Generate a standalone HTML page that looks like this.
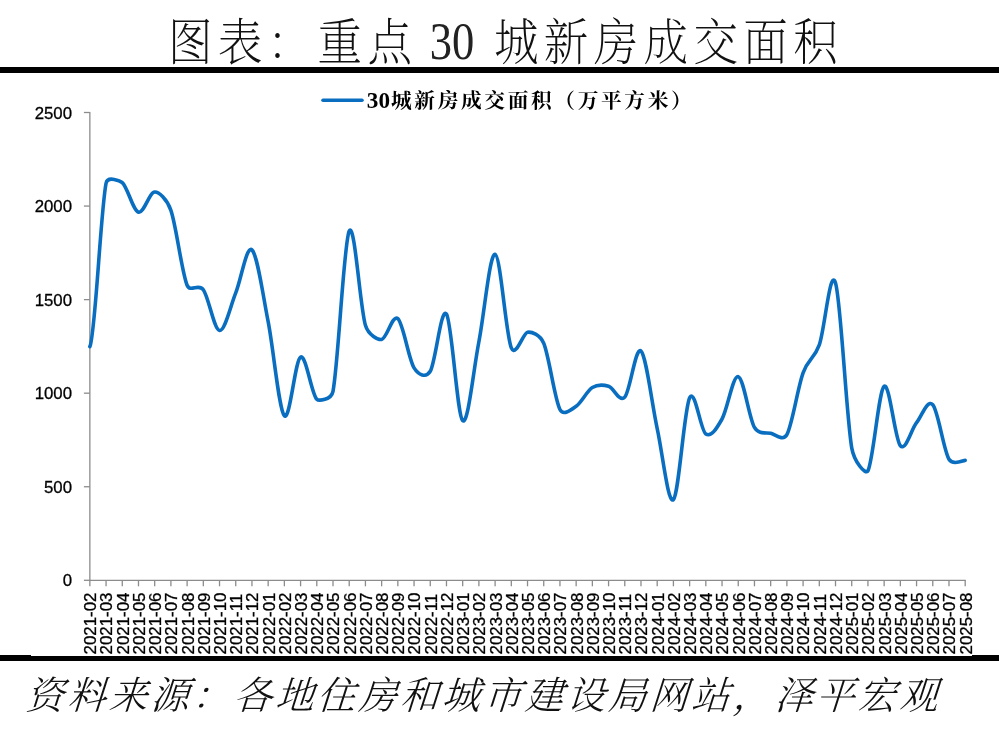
<!DOCTYPE html>
<html lang="zh-CN"><head><meta charset="utf-8"><title>图表：重点30城新房成交面积</title>
<style>
html,body{margin:0;padding:0;background:#fff;}
body{width:999px;height:729px;position:relative;overflow:hidden;font-family:"Liberation Sans","Noto Sans CJK SC",sans-serif;}
#title{position:absolute;left:0;top:0;width:999px;height:66px;font-family:"Liberation Serif","Noto Serif CJK SC",serif;font-weight:200;color:#111;}
#title span{position:absolute;top:11px;white-space:nowrap;line-height:66px;display:block;}
#title .c{font-size:49.5px;letter-spacing:5.9px;transform:scaleX(.9);transform-origin:0 50%;}
#title .n{font-size:51.8px;transform:scaleX(.86);transform-origin:50% 50%;left:401.6px;width:100px;text-align:center;font-weight:400;color:#222;top:9.3px;}
#topline{position:absolute;left:0;top:67px;width:999px;height:6px;background:#000;}
#botline{position:absolute;left:0;top:655px;width:999px;height:6px;background:#000;}
#chart{position:absolute;left:31px;top:73px;width:941.2px;height:583px;background:#fff;}
#source{position:absolute;left:26px;top:667.5px;transform:skewX(-4deg);transform-origin:0 50%;width:970px;height:56px;font-family:"Liberation Serif","Noto Serif CJK SC",serif;font-weight:300;font-style:italic;font-size:38.5px;letter-spacing:3.1px;line-height:56px;color:#111;white-space:nowrap;}
#wrap{position:absolute;left:0;top:0;width:999px;height:729px;will-change:transform;opacity:.999;}
svg{position:absolute;left:0;top:0;}
svg text{font-family:"Liberation Sans","Noto Sans CJK SC",sans-serif;fill:#000;}
</style></head><body><div id="wrap">
<div id="title"><span class="c" style="left:168px">图表：重点</span><span class="n">30</span><span class="c" style="left:493.9px">城新房成交面积</span></div>
<div id="topline"></div>
<div id="botline"></div>
<div id="chart"></div>
<svg width="999" height="729" viewBox="0 0 999 729">
<g stroke="#8c8c8c" stroke-width="1.3" fill="none">
<line x1="89.85" y1="111.9" x2="89.85" y2="580.9"/>
<line x1="89.85" y1="580.3" x2="965.8" y2="580.3"/>
<line x1="89.85" y1="580.3" x2="89.85" y2="586.3"/><line x1="106.06" y1="580.3" x2="106.06" y2="586.3"/><line x1="122.27" y1="580.3" x2="122.27" y2="586.3"/><line x1="138.48" y1="580.3" x2="138.48" y2="586.3"/><line x1="154.69" y1="580.3" x2="154.69" y2="586.3"/><line x1="170.90" y1="580.3" x2="170.90" y2="586.3"/><line x1="187.11" y1="580.3" x2="187.11" y2="586.3"/><line x1="203.32" y1="580.3" x2="203.32" y2="586.3"/><line x1="219.53" y1="580.3" x2="219.53" y2="586.3"/><line x1="235.74" y1="580.3" x2="235.74" y2="586.3"/><line x1="251.95" y1="580.3" x2="251.95" y2="586.3"/><line x1="268.16" y1="580.3" x2="268.16" y2="586.3"/><line x1="284.37" y1="580.3" x2="284.37" y2="586.3"/><line x1="300.58" y1="580.3" x2="300.58" y2="586.3"/><line x1="316.79" y1="580.3" x2="316.79" y2="586.3"/><line x1="333.00" y1="580.3" x2="333.00" y2="586.3"/><line x1="349.21" y1="580.3" x2="349.21" y2="586.3"/><line x1="365.42" y1="580.3" x2="365.42" y2="586.3"/><line x1="381.63" y1="580.3" x2="381.63" y2="586.3"/><line x1="397.84" y1="580.3" x2="397.84" y2="586.3"/><line x1="414.05" y1="580.3" x2="414.05" y2="586.3"/><line x1="430.26" y1="580.3" x2="430.26" y2="586.3"/><line x1="446.47" y1="580.3" x2="446.47" y2="586.3"/><line x1="462.68" y1="580.3" x2="462.68" y2="586.3"/><line x1="478.89" y1="580.3" x2="478.89" y2="586.3"/><line x1="495.10" y1="580.3" x2="495.10" y2="586.3"/><line x1="511.31" y1="580.3" x2="511.31" y2="586.3"/><line x1="527.52" y1="580.3" x2="527.52" y2="586.3"/><line x1="543.73" y1="580.3" x2="543.73" y2="586.3"/><line x1="559.94" y1="580.3" x2="559.94" y2="586.3"/><line x1="576.15" y1="580.3" x2="576.15" y2="586.3"/><line x1="592.36" y1="580.3" x2="592.36" y2="586.3"/><line x1="608.57" y1="580.3" x2="608.57" y2="586.3"/><line x1="624.78" y1="580.3" x2="624.78" y2="586.3"/><line x1="640.99" y1="580.3" x2="640.99" y2="586.3"/><line x1="657.20" y1="580.3" x2="657.20" y2="586.3"/><line x1="673.41" y1="580.3" x2="673.41" y2="586.3"/><line x1="689.62" y1="580.3" x2="689.62" y2="586.3"/><line x1="705.83" y1="580.3" x2="705.83" y2="586.3"/><line x1="722.04" y1="580.3" x2="722.04" y2="586.3"/><line x1="738.25" y1="580.3" x2="738.25" y2="586.3"/><line x1="754.46" y1="580.3" x2="754.46" y2="586.3"/><line x1="770.67" y1="580.3" x2="770.67" y2="586.3"/><line x1="786.88" y1="580.3" x2="786.88" y2="586.3"/><line x1="803.09" y1="580.3" x2="803.09" y2="586.3"/><line x1="819.30" y1="580.3" x2="819.30" y2="586.3"/><line x1="835.51" y1="580.3" x2="835.51" y2="586.3"/><line x1="851.72" y1="580.3" x2="851.72" y2="586.3"/><line x1="867.93" y1="580.3" x2="867.93" y2="586.3"/><line x1="884.14" y1="580.3" x2="884.14" y2="586.3"/><line x1="900.35" y1="580.3" x2="900.35" y2="586.3"/><line x1="916.56" y1="580.3" x2="916.56" y2="586.3"/><line x1="932.77" y1="580.3" x2="932.77" y2="586.3"/><line x1="948.98" y1="580.3" x2="948.98" y2="586.3"/><line x1="965.19" y1="580.3" x2="965.19" y2="586.3"/>
<line x1="83.9" y1="580.30" x2="89.85" y2="580.30"/><line x1="83.9" y1="486.74" x2="89.85" y2="486.74"/><line x1="83.9" y1="393.18" x2="89.85" y2="393.18"/><line x1="83.9" y1="299.62" x2="89.85" y2="299.62"/><line x1="83.9" y1="206.06" x2="89.85" y2="206.06"/><line x1="83.9" y1="112.50" x2="89.85" y2="112.50"/>
</g>
<g font-size="16.8px" stroke="#000" stroke-width="0.3"><text x="72" y="586.30" text-anchor="end">0</text><text x="72" y="492.74" text-anchor="end">500</text><text x="72" y="399.18" text-anchor="end">1000</text><text x="72" y="305.62" text-anchor="end">1500</text><text x="72" y="212.06" text-anchor="end">2000</text><text x="72" y="118.50" text-anchor="end">2500</text></g>
<g font-size="16.9px" stroke="#000" stroke-width="0.3"><text transform="translate(96.25,654.5) rotate(-90)">2021-02</text><text transform="translate(112.46,654.5) rotate(-90)">2021-03</text><text transform="translate(128.67,654.5) rotate(-90)">2021-04</text><text transform="translate(144.88,654.5) rotate(-90)">2021-05</text><text transform="translate(161.09,654.5) rotate(-90)">2021-06</text><text transform="translate(177.30,654.5) rotate(-90)">2021-07</text><text transform="translate(193.51,654.5) rotate(-90)">2021-08</text><text transform="translate(209.72,654.5) rotate(-90)">2021-09</text><text transform="translate(225.93,654.5) rotate(-90)">2021-10</text><text transform="translate(242.14,654.5) rotate(-90)">2021-11</text><text transform="translate(258.35,654.5) rotate(-90)">2021-12</text><text transform="translate(274.56,654.5) rotate(-90)">2022-01</text><text transform="translate(290.77,654.5) rotate(-90)">2022-02</text><text transform="translate(306.98,654.5) rotate(-90)">2022-03</text><text transform="translate(323.19,654.5) rotate(-90)">2022-04</text><text transform="translate(339.40,654.5) rotate(-90)">2022-05</text><text transform="translate(355.61,654.5) rotate(-90)">2022-06</text><text transform="translate(371.82,654.5) rotate(-90)">2022-07</text><text transform="translate(388.03,654.5) rotate(-90)">2022-08</text><text transform="translate(404.24,654.5) rotate(-90)">2022-09</text><text transform="translate(420.45,654.5) rotate(-90)">2022-10</text><text transform="translate(436.66,654.5) rotate(-90)">2022-11</text><text transform="translate(452.87,654.5) rotate(-90)">2022-12</text><text transform="translate(469.08,654.5) rotate(-90)">2023-01</text><text transform="translate(485.29,654.5) rotate(-90)">2023-02</text><text transform="translate(501.50,654.5) rotate(-90)">2023-03</text><text transform="translate(517.71,654.5) rotate(-90)">2023-04</text><text transform="translate(533.92,654.5) rotate(-90)">2023-05</text><text transform="translate(550.13,654.5) rotate(-90)">2023-06</text><text transform="translate(566.34,654.5) rotate(-90)">2023-07</text><text transform="translate(582.55,654.5) rotate(-90)">2023-08</text><text transform="translate(598.76,654.5) rotate(-90)">2023-09</text><text transform="translate(614.97,654.5) rotate(-90)">2023-10</text><text transform="translate(631.18,654.5) rotate(-90)">2023-11</text><text transform="translate(647.39,654.5) rotate(-90)">2023-12</text><text transform="translate(663.60,654.5) rotate(-90)">2024-01</text><text transform="translate(679.81,654.5) rotate(-90)">2024-02</text><text transform="translate(696.02,654.5) rotate(-90)">2024-03</text><text transform="translate(712.23,654.5) rotate(-90)">2024-04</text><text transform="translate(728.44,654.5) rotate(-90)">2024-05</text><text transform="translate(744.65,654.5) rotate(-90)">2024-06</text><text transform="translate(760.86,654.5) rotate(-90)">2024-07</text><text transform="translate(777.07,654.5) rotate(-90)">2024-08</text><text transform="translate(793.28,654.5) rotate(-90)">2024-09</text><text transform="translate(809.49,654.5) rotate(-90)">2024-10</text><text transform="translate(825.70,654.5) rotate(-90)">2024-11</text><text transform="translate(841.91,654.5) rotate(-90)">2024-12</text><text transform="translate(858.12,654.5) rotate(-90)">2025-01</text><text transform="translate(874.33,654.5) rotate(-90)">2025-02</text><text transform="translate(890.54,654.5) rotate(-90)">2025-03</text><text transform="translate(906.75,654.5) rotate(-90)">2025-04</text><text transform="translate(922.96,654.5) rotate(-90)">2025-05</text><text transform="translate(939.17,654.5) rotate(-90)">2025-06</text><text transform="translate(955.38,654.5) rotate(-90)">2025-07</text><text transform="translate(971.59,654.5) rotate(-90)">2025-08</text></g>
<path d="M89.85 346.59 C95.25 336.55 100.66 210.55 106.06 183.23 C107.63 175.28 120.70 181.26 122.27 182.67 C127.67 187.50 133.08 210.68 138.48 212.23 C143.88 213.79 149.29 192.34 154.69 192.03 C158.71 191.79 166.88 198.81 170.90 210.36 C176.30 225.89 181.71 271.99 187.11 285.21 C190.29 293.00 198.42 282.86 203.32 289.70 C208.72 297.25 214.13 329.96 219.53 330.49 C224.93 331.02 230.34 306.33 235.74 292.88 C241.14 279.44 246.55 245.04 251.95 249.85 C257.35 254.65 262.76 294.04 268.16 321.70 C273.56 349.36 278.97 409.93 284.37 415.82 C289.77 421.72 295.18 359.81 300.58 357.07 C305.98 354.32 311.39 393.65 316.79 399.35 C318.50 401.16 331.29 400.19 333.00 391.31 C338.40 363.27 343.81 242.14 349.21 231.13 C354.61 220.13 360.02 307.20 365.42 325.26 C368.51 335.58 378.54 340.10 381.63 339.48 C387.03 338.39 392.44 313.97 397.84 318.71 C403.24 323.45 408.65 359.16 414.05 367.92 C418.39 374.97 425.99 378.38 430.26 371.29 C435.66 362.31 441.07 305.79 446.47 314.03 C451.87 322.26 457.28 416.07 462.68 420.69 C468.08 425.30 473.49 369.45 478.89 341.72 C484.29 314.00 489.70 253.31 495.10 254.34 C500.50 255.37 505.91 334.92 511.31 347.90 C515.65 358.32 523.18 332.81 527.52 332.18 C531.31 331.63 539.94 334.18 543.73 343.22 C549.13 356.10 554.54 398.95 559.94 409.46 C563.72 416.81 572.37 408.83 576.15 406.28 C581.55 402.63 586.96 390.90 592.36 387.57 C597.76 384.23 603.17 384.67 608.57 386.26 C613.97 387.85 619.38 402.97 624.78 397.11 C630.18 391.25 635.59 345.84 640.99 351.08 C646.39 356.32 651.80 403.78 657.20 428.55 C662.60 453.31 668.01 504.77 673.41 499.65 C678.81 494.54 684.22 408.80 689.62 397.86 C695.02 386.91 700.43 430.45 705.83 433.97 C711.23 437.50 716.64 428.55 722.04 419.00 C727.44 409.46 732.85 375.31 738.25 376.71 C743.65 378.12 749.06 418.00 754.46 427.42 C758.74 434.89 766.39 432.26 770.67 433.22 C774.53 434.09 783.02 441.89 786.88 434.72 C792.28 424.68 797.69 387.94 803.09 372.97 C808.49 358.00 813.90 359.90 819.30 344.90 C824.70 329.90 830.11 265.81 835.51 282.97 C840.91 300.12 846.32 416.51 851.72 447.82 C854.11 461.69 865.54 475.38 867.93 470.83 C873.33 460.57 878.74 390.44 884.14 386.26 C889.54 382.08 894.95 439.68 900.35 445.76 C905.75 451.84 911.16 429.57 916.56 422.74 C921.96 415.92 927.37 398.70 932.77 404.78 C938.17 410.86 943.58 449.97 948.98 459.23 C953.07 466.25 963.14 460.21 965.19 460.36" fill="none" stroke="#0a6ec0" stroke-width="3.6" stroke-linecap="round" stroke-linejoin="round"/>
<line x1="323" y1="100.2" x2="362" y2="100.2" stroke="#0a6ec0" stroke-width="3.6" stroke-linecap="round"/>
<text x="366.8" y="108" font-size="23.2px" font-weight="bold" style="font-family:'Liberation Serif','Noto Serif CJK SC',serif">30<tspan font-size="20.7px" letter-spacing="2.65px" dx="1" dy="-0.3">城新房成交面积（万平方米）</tspan></text>
</svg>
<div id="source">资料来源：各地住房和城市建设局网站，泽平宏观</div>
</div></body></html>
